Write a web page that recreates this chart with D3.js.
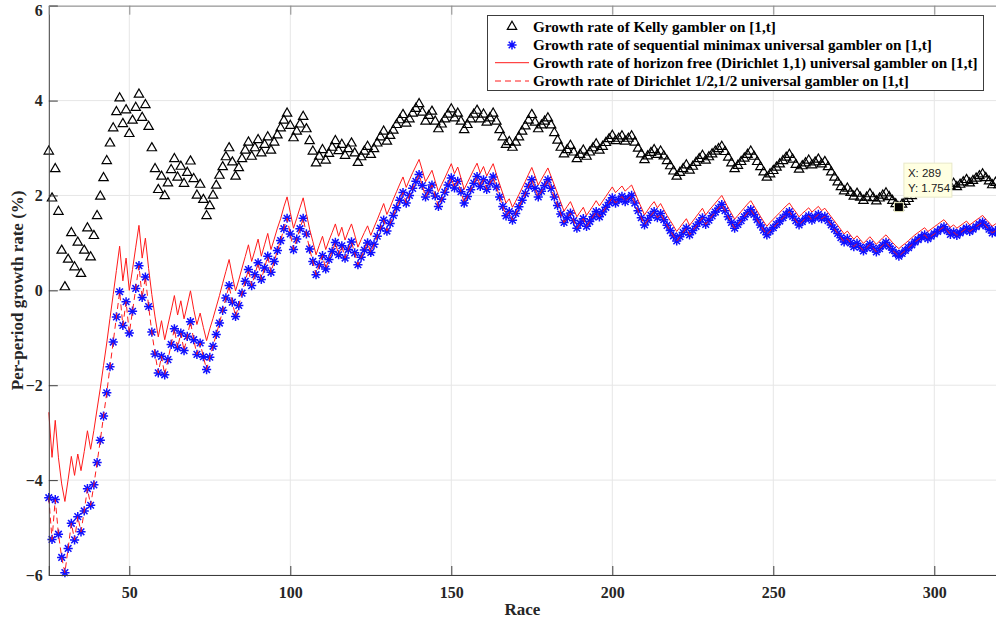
<!DOCTYPE html>
<html>
<head>
<meta charset="utf-8">
<title>Growth rate of universal gamblers</title>
<script src="https://cdn.jsdelivr.net/npm/d3@7/dist/d3.min.js"></script>
<style>
	body { margin:0; background:#fff; }
	svg { display:block; }
	text { font-family: "Liberation Serif", "Times New Roman", serif; }
</style>
</head>
<body>
<div id="chart"></div>
<script>
// first race shown on the x axis, every array below starts there (one value per race)
const FIRST_RACE = 25;

// Kelly gambler (triangles)
const kelly = [
	2.93,1.94,2.56,1.66,0.84,0.07,0.65,1.21,0.49,1.01,0.35,0.84,1.31,0.70,1.15,1.57,1.98,2.37,2.73,3.10,
	3.42,3.76,4.05,3.51,3.80,3.30,3.58,3.85,4.13,3.64,3.91,3.45,3.00,2.56,2.12,2.40,1.99,2.26,2.54,2.77,
	2.38,2.61,2.25,2.48,2.72,2.35,2.00,2.23,1.91,1.57,1.78,2.00,2.21,2.42,2.60,2.81,3.00,2.70,2.40,2.58,
	2.77,2.95,3.12,2.82,3.00,3.17,2.89,3.07,3.23,2.95,3.12,3.27,3.42,3.58,3.73,3.47,3.21,3.35,3.50,3.66,
	3.40,3.15,2.93,2.68,2.82,2.96,2.74,2.88,3.01,3.15,2.94,3.07,2.84,2.98,3.10,2.89,2.69,2.81,2.93,3.03,
	2.86,2.98,3.10,3.23,3.35,3.14,3.26,3.37,3.49,3.59,3.70,3.52,3.61,3.73,3.83,3.93,3.75,3.56,3.68,3.77,
	3.56,3.40,3.50,3.61,3.71,3.82,3.63,3.73,3.56,3.38,3.49,3.61,3.71,3.79,3.61,3.71,3.54,3.63,3.73,3.56,
	3.38,3.23,3.07,3.13,3.01,3.12,3.23,3.35,3.46,3.58,3.70,3.54,3.40,3.48,3.56,3.63,3.48,3.32,3.16,3.01,
	2.87,2.96,3.05,2.91,2.77,2.86,2.95,2.82,2.91,3.00,3.08,2.95,3.03,3.11,3.19,3.26,3.15,3.20,3.25,3.14,
	3.20,3.25,3.12,2.99,2.87,2.75,2.83,2.90,2.96,2.86,2.93,2.83,2.73,2.62,2.51,2.40,2.48,2.56,2.64,2.53,
	2.61,2.69,2.77,2.84,2.74,2.81,2.87,2.93,2.98,3.03,2.92,2.80,2.68,2.56,2.63,2.71,2.78,2.86,2.93,2.82,
	2.71,2.60,2.49,2.38,2.45,2.52,2.59,2.66,2.73,2.80,2.86,2.76,2.65,2.55,2.62,2.68,2.74,2.64,2.70,2.76,
	2.66,2.71,2.60,2.49,2.38,2.28,2.18,2.09,2.15,2.06,1.98,2.04,1.96,1.89,1.96,2.03,1.95,1.88,1.94,2.00,
	2.05,1.97,1.89,1.82,1.754,1.81,1.87,1.93,1.99,2.05,2.10,2.15,2.20,2.11,2.16,2.21,2.26,2.31,2.36,2.28,
	2.20,2.25,2.18,2.23,2.28,2.33,2.26,2.31,2.36,2.41,2.45,2.37,2.30,2.22,2.27,2.22
];

// sequential minimax universal gambler (blue stars)
const minimax = [
	-4.37,-5.25,-4.41,-5.14,-5.63,-5.95,-5.44,-4.91,-5.26,-4.77,-5.09,-4.65,-4.18,-4.53,-4.10,-3.63,-3.16,-2.65,-2.16,-1.61,
	-1.09,-0.56,-0.03,-0.74,-0.24,-0.90,-0.44,0.04,0.52,-0.15,0.28,-0.34,-0.88,-1.34,-1.74,-1.39,-1.78,-1.46,-1.14,-0.81,
	-1.21,-0.90,-1.27,-0.97,-0.66,-1.04,-1.35,-1.11,-1.40,-1.67,-1.41,-1.18,-0.93,-0.69,-0.42,-0.16,0.10,-0.25,-0.55,-0.32,
	-0.06,0.19,0.44,0.10,0.33,0.58,0.23,0.47,0.72,0.38,0.61,0.84,1.05,1.30,1.52,1.19,0.86,1.08,1.30,1.52,
	1.19,0.87,0.61,0.33,0.54,0.73,0.45,0.65,0.82,1.01,0.75,0.94,0.68,0.86,1.02,0.79,0.54,0.70,0.85,1.00,
	0.80,0.97,1.14,1.31,1.48,1.25,1.41,1.58,1.74,1.90,2.06,1.84,2.00,2.15,2.30,2.44,2.21,1.97,2.10,2.22,
	1.99,1.77,1.92,2.07,2.22,2.37,2.16,2.30,2.08,1.84,1.98,2.12,2.26,2.40,2.19,2.33,2.13,2.26,2.39,2.18,
	1.97,1.77,1.57,1.66,1.48,1.62,1.76,1.90,2.04,2.19,2.33,2.15,1.97,2.09,2.21,2.33,2.15,1.97,1.79,1.61,
	1.43,1.53,1.63,1.47,1.31,1.41,1.51,1.35,1.45,1.55,1.66,1.55,1.65,1.75,1.85,1.95,1.84,1.91,1.98,1.87,
	1.94,2.00,1.84,1.68,1.53,1.38,1.48,1.58,1.66,1.53,1.62,1.49,1.37,1.26,1.15,1.04,1.13,1.22,1.31,1.17,
	1.26,1.35,1.44,1.53,1.39,1.48,1.57,1.65,1.73,1.81,1.68,1.55,1.43,1.31,1.39,1.47,1.55,1.63,1.70,1.60,
	1.49,1.38,1.27,1.17,1.25,1.32,1.39,1.46,1.53,1.60,1.66,1.56,1.47,1.38,1.45,1.51,1.57,1.48,1.54,1.60,
	1.51,1.56,1.47,1.38,1.29,1.20,1.11,1.02,1.09,1.00,0.92,0.99,0.91,0.83,0.90,0.97,0.89,0.81,0.88,0.95,
	1.01,0.93,0.85,0.78,0.72,0.78,0.84,0.90,0.96,1.02,1.07,1.12,1.17,1.09,1.14,1.19,1.24,1.29,1.34,1.26,
	1.18,1.23,1.16,1.21,1.26,1.31,1.24,1.29,1.34,1.39,1.44,1.36,1.29,1.21,1.26,1.21
];

// horizon free Dirichlet(1,1) gambler (red solid)
const dirichlet11 = [
	-2.57,-3.52,-2.74,-3.53,-4.08,-4.45,-3.99,-3.50,-3.90,-3.45,-3.80,-3.40,-2.96,-3.35,-2.95,-2.50,-2.06,-1.58,-1.11,-0.59,
	-0.09,0.42,0.93,0.20,0.68,0.00,0.44,0.91,1.37,0.68,1.10,0.46,-0.09,-0.56,-0.98,-0.64,-1.04,-0.73,-0.43,-0.11,
	-0.52,-0.22,-0.60,-0.31,-0.01,-0.40,-0.72,-0.48,-0.78,-1.06,-0.81,-0.59,-0.35,-0.11,0.15,0.40,0.65,0.30,-0.01,0.22,
	0.47,0.71,0.96,0.61,0.84,1.08,0.72,0.96,1.20,0.86,1.08,1.31,1.51,1.76,1.97,1.64,1.31,1.52,1.74,1.95,
	1.62,1.29,1.03,0.75,0.95,1.14,0.86,1.05,1.22,1.40,1.14,1.33,1.06,1.24,1.40,1.17,0.91,1.07,1.22,1.36,
	1.16,1.33,1.49,1.66,1.83,1.60,1.75,1.92,2.08,2.24,2.39,2.17,2.33,2.48,2.62,2.76,2.53,2.29,2.41,2.53,
	2.30,2.08,2.23,2.37,2.52,2.67,2.46,2.60,2.37,2.13,2.27,2.41,2.55,2.68,2.47,2.61,2.41,2.54,2.67,2.45,
	2.24,2.04,1.84,1.93,1.75,1.88,2.02,2.16,2.30,2.45,2.59,2.41,2.22,2.34,2.46,2.58,2.40,2.22,2.04,1.85,
	1.67,1.77,1.87,1.71,1.55,1.65,1.75,1.58,1.68,1.78,1.89,1.78,1.88,1.98,2.08,2.18,2.06,2.13,2.20,2.09,
	2.16,2.22,2.06,1.90,1.75,1.59,1.69,1.79,1.87,1.74,1.83,1.70,1.58,1.47,1.36,1.24,1.33,1.42,1.51,1.37,
	1.46,1.55,1.64,1.73,1.59,1.68,1.76,1.84,1.92,2.00,1.87,1.74,1.62,1.50,1.58,1.66,1.74,1.82,1.89,1.78,
	1.67,1.56,1.45,1.35,1.43,1.50,1.57,1.64,1.71,1.78,1.84,1.74,1.65,1.55,1.62,1.68,1.74,1.65,1.71,1.77,
	1.68,1.73,1.64,1.55,1.46,1.37,1.28,1.19,1.25,1.16,1.08,1.15,1.07,0.99,1.06,1.13,1.05,0.97,1.04,1.11,
	1.17,1.09,1.01,0.94,0.88,0.94,0.99,1.05,1.11,1.17,1.22,1.27,1.32,1.24,1.29,1.34,1.39,1.44,1.49,1.41,
	1.33,1.38,1.31,1.36,1.41,1.46,1.38,1.43,1.48,1.53,1.58,1.50,1.43,1.35,1.40,1.35
];

// Dirichlet(1/2,1/2) gambler (red dashed) - sits right on the blue stars
const dirichletHalf = [
	-4.37,-5.25,-4.41,-5.14,-5.63,-5.95,-5.44,-4.91,-5.26,-4.77,-5.09,-4.65,-4.18,-4.53,-4.10,-3.63,-3.16,-2.65,-2.16,-1.61,
	-1.09,-0.56,-0.03,-0.74,-0.24,-0.90,-0.44,0.04,0.52,-0.15,0.28,-0.34,-0.88,-1.34,-1.74,-1.39,-1.78,-1.46,-1.14,-0.81,
	-1.21,-0.90,-1.27,-0.97,-0.66,-1.04,-1.35,-1.11,-1.40,-1.67,-1.41,-1.18,-0.93,-0.69,-0.42,-0.16,0.10,-0.25,-0.55,-0.32,
	-0.06,0.19,0.44,0.10,0.33,0.58,0.23,0.47,0.72,0.38,0.61,0.84,1.05,1.30,1.52,1.19,0.86,1.08,1.30,1.52,
	1.19,0.87,0.61,0.33,0.54,0.73,0.45,0.65,0.82,1.01,0.75,0.94,0.68,0.86,1.02,0.79,0.54,0.70,0.85,1.00,
	0.80,0.97,1.14,1.31,1.48,1.25,1.41,1.58,1.74,1.90,2.06,1.84,2.00,2.15,2.30,2.44,2.21,1.97,2.10,2.22,
	1.99,1.77,1.92,2.07,2.22,2.37,2.16,2.30,2.08,1.84,1.98,2.12,2.26,2.40,2.19,2.33,2.13,2.26,2.39,2.18,
	1.97,1.77,1.57,1.66,1.48,1.62,1.76,1.90,2.04,2.19,2.33,2.15,1.97,2.09,2.21,2.33,2.15,1.97,1.79,1.61,
	1.43,1.53,1.63,1.47,1.31,1.41,1.51,1.35,1.45,1.55,1.66,1.55,1.65,1.75,1.85,1.95,1.84,1.91,1.98,1.87,
	1.94,2.00,1.84,1.68,1.53,1.38,1.48,1.58,1.66,1.53,1.62,1.49,1.37,1.26,1.15,1.04,1.13,1.22,1.31,1.17,
	1.26,1.35,1.44,1.53,1.39,1.48,1.57,1.65,1.73,1.81,1.68,1.55,1.43,1.31,1.39,1.47,1.55,1.63,1.70,1.60,
	1.49,1.38,1.27,1.17,1.25,1.32,1.39,1.46,1.53,1.60,1.66,1.56,1.47,1.38,1.45,1.51,1.57,1.48,1.54,1.60,
	1.51,1.56,1.47,1.38,1.29,1.20,1.11,1.02,1.09,1.00,0.92,0.99,0.91,0.83,0.90,0.97,0.89,0.81,0.88,0.95,
	1.01,0.93,0.85,0.78,0.72,0.78,0.84,0.90,0.96,1.02,1.07,1.12,1.17,1.09,1.14,1.19,1.24,1.29,1.34,1.26,
	1.18,1.23,1.16,1.21,1.26,1.31,1.24,1.29,1.34,1.39,1.44,1.36,1.29,1.21,1.26,1.21
];

const xTicks = [50, 100, 150, 200, 250, 300];
const yTicks = [-6, -4, -2, 0, 2, 4, 6];
const xDomain = [25, 320];
const yDomain = [-6, 6];

const legendLabels = [
	"Growth rate of Kelly gambler on [1,t]",
	"Growth rate of sequential minimax universal gambler on [1,t]",
	"Growth rate of horizon free (Dirichlet 1,1) universal gambler on [1,t]",
	"Growth rate of Dirichlet 1/2,1/2 universal gambler on [1,t]"
];

// the data tip that was left open on the Kelly curve
const tipRace = 289;
const tipValue = 1.754;

var growthChart = {
	W : 996,
	H : 627,
	plot : { left:48.8, right:998.7, top:5.7, bottom:575 },
	svg : null,
	x : null,
	y : null,

	init : function(container){
		let _container = container || 'chart';
		this.svg = d3.select('#'+_container).append('svg')
			.attr('width', this.W)
			.attr('height', this.H);

		this.x = d3.scaleLinear().domain(xDomain).range([this.plot.left, this.plot.right]);
		this.y = d3.scaleLinear().domain(yDomain).range([this.plot.bottom, this.plot.top]);

		this.drawGrid();
		this.drawSeries();
		this.drawAxes();
		this.drawLegend();
		this.drawDataTip();
	},

	toPoints : function(values){
		return values.map(function(v, i){ return { race: FIRST_RACE + i, v: v }; });
	},

	starPath : function(r){
		let k = r * 0.72;
		return 'M' + (-r) + ',0H' + r + 'M0,' + (-r) + 'V' + r +
			'M' + (-k) + ',' + (-k) + 'L' + k + ',' + k +
			'M' + (-k) + ',' + k + 'L' + k + ',' + (-k);
	},

	drawGrid : function(){
		let g = this.svg.append('g').attr('class','grid');
		let x = this.x, y = this.y, p = this.plot;
		g.selectAll('line.gx').data(xTicks).enter().append('line')
			.attr('x1', function(d){ return x(d); }).attr('x2', function(d){ return x(d); })
			.attr('y1', p.top).attr('y2', p.bottom)
			.attr('stroke', '#e6e6e6').attr('stroke-width', 1);
		g.selectAll('line.gy').data(yTicks).enter().append('line')
			.attr('x1', p.left).attr('x2', p.right)
			.attr('y1', function(d){ return y(d); }).attr('y2', function(d){ return y(d); })
			.attr('stroke', '#e6e6e6').attr('stroke-width', 1);
	},

	drawSeries : function(){
		let x = this.x, y = this.y;
		let line = d3.line()
			.x(function(d){ return x(d.race); })
			.y(function(d){ return y(d.v); });

		// Kelly: open triangles
		let tri = d3.symbol().type(d3.symbolTriangle).size(38);
		this.svg.append('g').selectAll('path')
			.data(this.toPoints(kelly)).enter().append('path')
			.attr('d', tri)
			.attr('transform', function(d){ return 'translate(' + x(d.race) + ',' + y(d.v) + ')'; })
			.attr('fill', 'none')
			.attr('stroke', '#000')
			.attr('stroke-width', 1.2);

		// minimax: blue asterisks (plus + cross)
		this.svg.append('g').selectAll('path')
			.data(this.toPoints(minimax)).enter().append('path')
			.attr('d', this.starPath(4.6))
			.attr('transform', function(d){ return 'translate(' + x(d.race) + ',' + y(d.v) + ')'; })
			.attr('fill', 'none')
			.attr('stroke', '#1010ff')
			.attr('stroke-width', 1.5);

		this.svg.append('path')
			.datum(this.toPoints(dirichlet11))
			.attr('d', line)
			.attr('fill', 'none')
			.attr('stroke', '#ff1a1a')
			.attr('stroke-width', 1);

		this.svg.append('path')
			.datum(this.toPoints(dirichletHalf))
			.attr('d', line)
			.attr('fill', 'none')
			.attr('stroke', '#ff1a1a')
			.attr('stroke-width', 1)
			.attr('stroke-dasharray', '6,4');
	},

	drawAxes : function(){
		let x = this.x, y = this.y, p = this.plot;
		let axisColor = '#3c3c3c';

		let xAxis = d3.axisBottom(x).tickValues(xTicks).tickSize(-9).tickPadding(12).tickFormat(d3.format('d'));
		let gx = this.svg.append('g').attr('transform', 'translate(0,' + p.bottom + ')').call(xAxis);
		gx.select('.domain').attr('stroke', axisColor);
		gx.selectAll('.tick line').attr('stroke', axisColor);
		gx.selectAll('.tick text')
			.attr('fill', '#262626')
			.style('font-family', '"Liberation Serif", serif')
			.style('font-weight', 'bold')
			.style('font-size', '16px');

		let yAxis = d3.axisLeft(y).tickValues(yTicks).tickSize(-9).tickPadding(6).tickFormat(d3.format('d'));
		let gy = this.svg.append('g').attr('transform', 'translate(' + p.left + ',0)').call(yAxis);
		gy.select('.domain').attr('stroke', axisColor);
		gy.selectAll('.tick line').attr('stroke', axisColor);
		gy.selectAll('.tick text')
			.attr('fill', '#262626')
			.style('font-family', '"Liberation Serif", serif')
			.style('font-weight', 'bold')
			.style('font-size', '16px');
		// top label sits on the window edge, nudge it so it is not clipped
		gy.selectAll('.tick text').filter(function(d){ return d === 6; }).attr('dy', '0.62em');

		// top box edge with inward ticks
		let gt = this.svg.append('g').attr('transform', 'translate(0,' + p.top + ')')
			.call(d3.axisTop(x).tickValues(xTicks).tickSize(-9).tickFormat(''));
		gt.select('.domain').attr('stroke', '#8a8a8a');
		gt.selectAll('.tick line').attr('stroke', '#8a8a8a');

		// axis titles
		this.svg.append('text')
			.attr('x', (p.left + 996) / 2)
			.attr('y', 615)
			.attr('text-anchor', 'middle')
			.attr('fill', '#262626')
			.style('font-weight', 'bold')
			.style('font-size', '17px')
			.text('Race');

		this.svg.append('text')
			.attr('transform', 'translate(23,' + ((p.top + p.bottom) / 2) + ') rotate(-90)')
			.attr('text-anchor', 'middle')
			.attr('fill', '#262626')
			.style('font-weight', 'bold')
			.style('font-size', '17px')
			.text('Per-period growth rate (%)');
	},

	drawLegend : function(){
		let lg = this.svg.append('g').attr('class', 'legend');
		lg.append('rect')
			.attr('x', 487.5).attr('y', 15.5)
			.attr('width', 496).attr('height', 75)
			.attr('fill', '#fff')
			.attr('stroke', '#3c3c3c')
			.attr('stroke-width', 1);

		let rowY = [26.7, 45, 62.7, 81];
		let tri = d3.symbol().type(d3.symbolTriangle).size(38);
		lg.append('path').attr('d', tri)
			.attr('transform', 'translate(512,' + rowY[0] + ')')
			.attr('fill', 'none').attr('stroke', '#000').attr('stroke-width', 1.2);

		lg.append('path')
			.attr('d', this.starPath(4.6))
			.attr('transform', 'translate(512,' + rowY[1] + ')')
			.attr('fill', 'none').attr('stroke', '#1010ff').attr('stroke-width', 1.5);

		lg.append('line').attr('x1', 495).attr('x2', 529).attr('y1', rowY[2]).attr('y2', rowY[2])
			.attr('stroke', '#ff1a1a').attr('stroke-width', 1);
		lg.append('line').attr('x1', 495).attr('x2', 529).attr('y1', rowY[3]).attr('y2', rowY[3])
			.attr('stroke', '#ff1a1a').attr('stroke-width', 1).attr('stroke-dasharray', '6,4');

		lg.selectAll('text.lbl').data(legendLabels).enter().append('text')
			.attr('class', 'lbl')
			.attr('x', 533)
			.attr('y', function(d, i){ return rowY[i]; })
			.attr('dy', '0.35em')
			.attr('fill', '#000')
			.style('font-weight', 'bold')
			.style('font-size', '15.2px')
			.text(function(d){ return d; });
	},

	drawDataTip : function(){
		let cx = this.x(tipRace), cy = this.y(tipValue);
		let tip = this.svg.append('g').attr('class', 'datatip');
		tip.append('rect')
			.attr('x', cx - 4.5).attr('y', cy - 4.5)
			.attr('width', 9).attr('height', 9)
			.attr('fill', '#000')
			.attr('stroke', '#f0f0c8').attr('stroke-width', 1);

		let bx = cx + 5, by = cy - 44;
		tip.append('rect')
			.attr('x', bx).attr('y', by)
			.attr('width', 48).attr('height', 34)
			.attr('fill', '#ffffe1')
			.attr('stroke', '#e8e8c8')
			.attr('stroke-width', 1);
		tip.append('text')
			.attr('x', bx + 4).attr('y', by + 14)
			.style('font-family', '"Liberation Sans", Arial, sans-serif')
			.style('font-size', '11.5px')
			.attr('fill', '#222')
			.text('X: ' + tipRace);
		tip.append('text')
			.attr('x', bx + 4).attr('y', by + 29)
			.style('font-family', '"Liberation Sans", Arial, sans-serif')
			.style('font-size', '11.5px')
			.attr('fill', '#222')
			.text('Y: ' + tipValue);
	}
};

growthChart.init('chart');
</script>
</body>
</html>
